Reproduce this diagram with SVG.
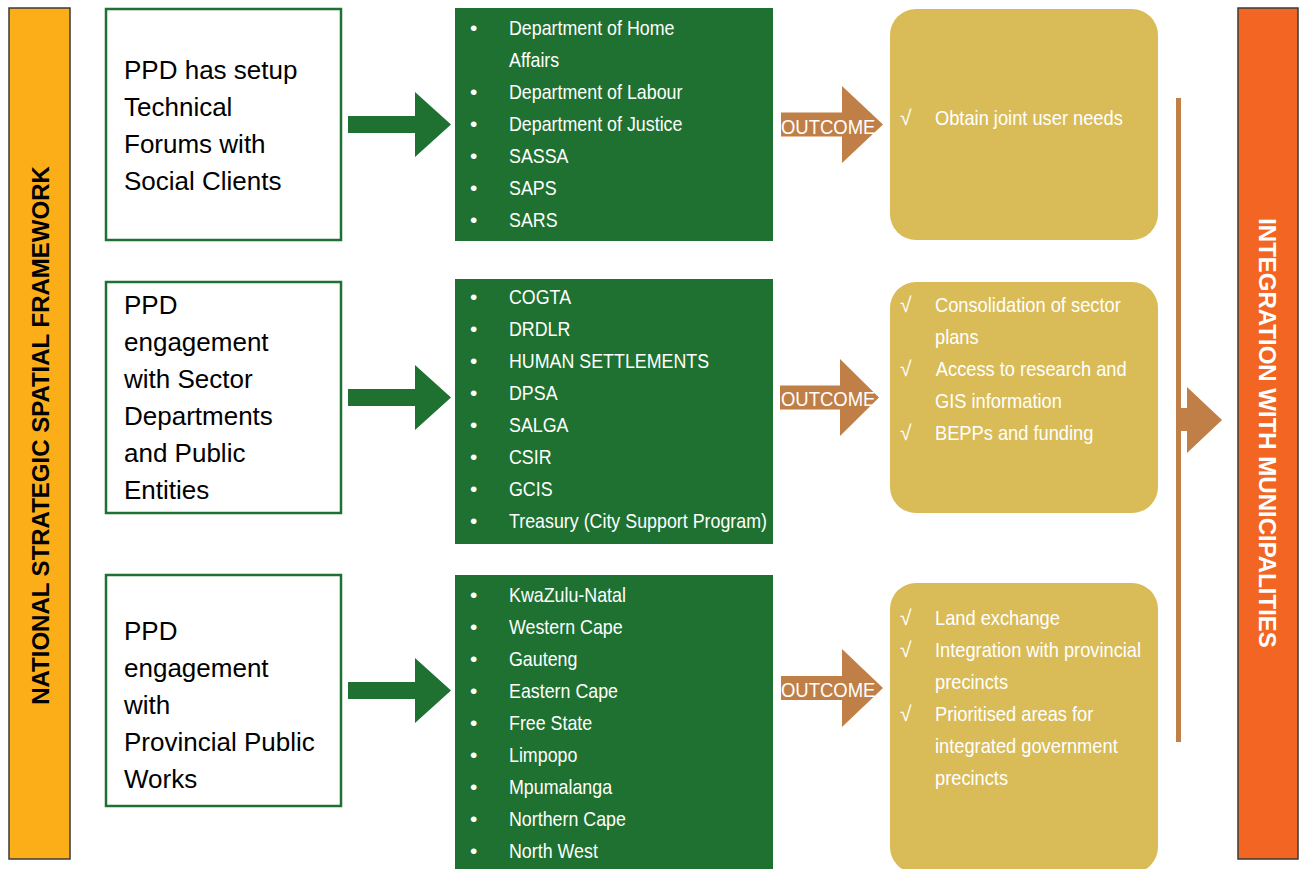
<svg xmlns="http://www.w3.org/2000/svg" width="1301" height="869" viewBox="0 0 1301 869">
<style>
.bar-y{fill:#FBAE17;stroke:#3a3a3a;stroke-width:1.5}
.bar-o{fill:#F26522;stroke:#3a3a3a;stroke-width:1.5}
.src{fill:#fff;stroke:#1E7130;stroke-width:2.5}
.grn{fill:#1E7130}
.gold{fill:#D9BC57}
.brn{fill:#C07F47}
.t-src{font-family:"Liberation Sans",Arial,sans-serif;font-size:26px;fill:#000}
.t-w{font-family:"Liberation Sans",Arial,sans-serif;font-size:21px;fill:#fff}
.t-bar{font-family:"Liberation Sans",Arial,sans-serif;font-size:24px;font-weight:bold}
</style>
<rect width="1301" height="869" fill="#fff"/>

<g id="national-framework">
<rect class="bar-y" x="9" y="8" width="61" height="851"/>
<text class="t-bar" transform="translate(49,435.5) rotate(-90)" text-anchor="middle" fill="#000">NATIONAL STRATEGIC SPATIAL FRAMEWORK</text>
</g>

<g id="integration-municipalities">
<rect class="bar-o" x="1238" y="8" width="60" height="851"/>
<text class="t-bar" transform="translate(1259,433) rotate(90)" text-anchor="middle" fill="#fff">INTEGRATION WITH MUNICIPALITIES</text>
</g>

<g id="src-1">
<rect class="src" x="106" y="9" width="235" height="231"/>
<text class="t-src" x="124" y="79">PPD has setup</text>
<text class="t-src" x="124" y="116">Technical</text>
<text class="t-src" x="124" y="153">Forums with</text>
<text class="t-src" x="124" y="190">Social Clients</text>
</g>
<g id="src-2">
<rect class="src" x="106" y="282" width="235" height="231"/>
<text class="t-src" x="124" y="314">PPD</text>
<text class="t-src" x="124" y="351">engagement</text>
<text class="t-src" x="124" y="388">with Sector</text>
<text class="t-src" x="124" y="425">Departments</text>
<text class="t-src" x="124" y="462">and Public</text>
<text class="t-src" x="124" y="499">Entities</text>
</g>
<g id="src-3">
<rect class="src" x="106" y="575" width="235" height="231"/>
<text class="t-src" x="124" y="640">PPD</text>
<text class="t-src" x="124" y="677">engagement</text>
<text class="t-src" x="124" y="714">with</text>
<text class="t-src" x="124" y="751">Provincial Public</text>
<text class="t-src" x="124" y="788">Works</text>
</g>

<g id="list-1">
<rect class="grn" x="455" y="8" width="318" height="233"/>
<g class="t-w">
<text x="470" y="35">•</text>
<text x="470" y="99">•</text>
<text x="470" y="131">•</text>
<text x="470" y="163">•</text>
<text x="470" y="195">•</text>
<text x="470" y="227">•</text>
</g>
<g class="t-w" transform="matrix(0.85,0,0,1,76.35,0)">
<text x="509" y="35">Department of Home</text>
<text x="509" y="67">Affairs</text>
<text x="509" y="99">Department of Labour</text>
<text x="509" y="131">Department of Justice</text>
<text x="509" y="163">SASSA</text>
<text x="509" y="195">SAPS</text>
<text x="509" y="227">SARS</text>
</g>
</g>
<g id="list-2">
<rect class="grn" x="455" y="279" width="318" height="265"/>
<g class="t-w">
<text x="470" y="304">•</text>
<text x="470" y="336">•</text>
<text x="470" y="368">•</text>
<text x="470" y="400">•</text>
<text x="470" y="432">•</text>
<text x="470" y="464">•</text>
<text x="470" y="496">•</text>
<text x="470" y="528">•</text>
</g>
<g class="t-w" transform="matrix(0.85,0,0,1,76.35,0)">
<text x="509" y="304">COGTA</text>
<text x="509" y="336">DRDLR</text>
<text x="509" y="368">HUMAN SETTLEMENTS</text>
<text x="509" y="400">DPSA</text>
<text x="509" y="432">SALGA</text>
<text x="509" y="464">CSIR</text>
<text x="509" y="496">GCIS</text>
<text x="509" y="528">Treasury (City Support Program)</text>
</g>
</g>
<g id="list-3">
<rect class="grn" x="455" y="575" width="318" height="300"/>
<g class="t-w">
<text x="470" y="602">•</text>
<text x="470" y="634">•</text>
<text x="470" y="666">•</text>
<text x="470" y="698">•</text>
<text x="470" y="730">•</text>
<text x="470" y="762">•</text>
<text x="470" y="794">•</text>
<text x="470" y="826">•</text>
<text x="470" y="858">•</text>
</g>
<g class="t-w" transform="matrix(0.85,0,0,1,76.35,0)">
<text x="509" y="602">KwaZulu-Natal</text>
<text x="509" y="634">Western Cape</text>
<text x="509" y="666">Gauteng</text>
<text x="509" y="698">Eastern Cape</text>
<text x="509" y="730">Free State</text>
<text x="509" y="762">Limpopo</text>
<text x="509" y="794">Mpumalanga</text>
<text x="509" y="826">Northern Cape</text>
<text x="509" y="858">North West</text>
</g>
</g>

<g id="outcome-1">
<rect class="gold" x="890" y="9" width="268" height="231" rx="26"/>
<g class="t-w">
<text x="900" y="125">√</text>
</g>
<g class="t-w" transform="matrix(0.87,0,0,1,121.55,0)">
<text x="935" y="125">Obtain joint user needs</text>
</g>
</g>
<g id="outcome-2">
<rect class="gold" x="890" y="282" width="268" height="231" rx="26"/>
<g class="t-w">
<text x="900" y="312">√</text>
<text x="900" y="376">√</text>
<text x="900" y="440">√</text>
</g>
<g class="t-w" transform="matrix(0.87,0,0,1,121.55,0)">
<text x="935" y="312">Consolidation of sector</text>
<text x="935" y="344">plans</text>
<text x="936" y="376">Access to research and</text>
<text x="935" y="408">GIS information</text>
<text x="935" y="440">BEPPs and funding</text>
</g>
</g>
<g id="outcome-3">
<rect class="gold" x="890" y="583" width="268" height="290" rx="26"/>
<g class="t-w">
<text x="900" y="625">√</text>
<text x="900" y="657">√</text>
<text x="900" y="721">√</text>
</g>
<g class="t-w" transform="matrix(0.87,0,0,1,121.55,0)">
<text x="935" y="625">Land exchange</text>
<text x="935" y="657">Integration with provincial</text>
<text x="935" y="689">precincts</text>
<text x="935" y="721">Prioritised areas for</text>
<text x="935" y="753">integrated government</text>
<text x="935" y="785">precincts</text>
</g>
</g>

<g id="connectors">
<g class="grn">
<polygon points="348,116 415,116 415,92 451,124.5 415,157 415,133 348,133"/>
<polygon points="348,389 415,389 415,365 451,397.5 415,430 415,406 348,406"/>
<polygon points="348,682 415,682 415,658 451,690.5 415,723 415,699 348,699"/>
</g>
<g class="brn">
<polygon points="781,112.5 842,112.5 842,86 883,124.5 842,163 842,136.5 781,136.5"/>
<polygon points="780,385.5 840,385.5 840,359 879,397.5 840,436 840,409.5 780,409.5"/>
<polygon points="781,676 842,676 842,649 883,688 842,727 842,700 781,700"/>
<rect x="1176" y="98" width="5" height="644"/>
<polygon points="1181,408 1187,408 1187,387 1222,420 1187,453 1187,431 1181,431"/>
</g>
<g class="t-w" transform="matrix(0.88,0,0,1,93.72,0)">
<text x="781" y="134">OUTCOME</text>
<text x="781" y="406">OUTCOME</text>
<text x="781" y="697">OUTCOME</text>
</g>
</g>
</svg>
